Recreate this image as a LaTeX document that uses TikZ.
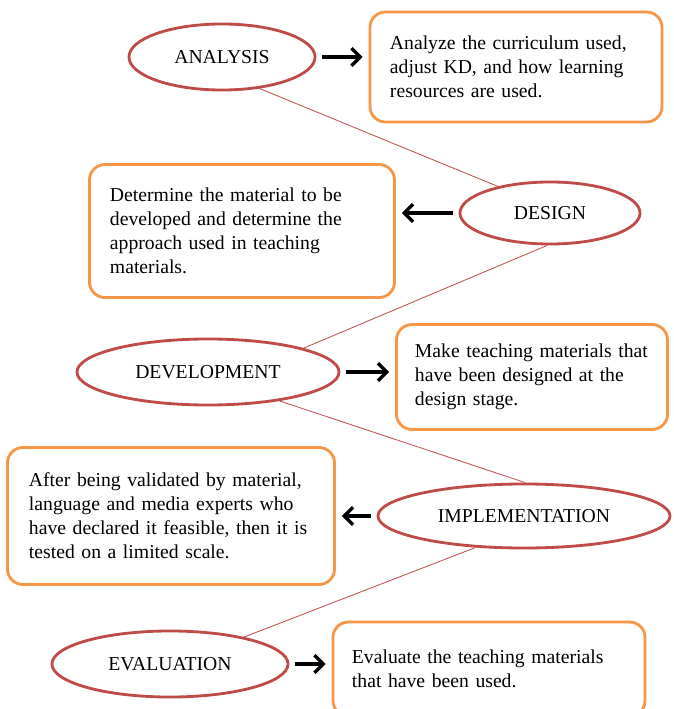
\documentclass[tikz,border=0pt]{standalone}
\usepackage{fontspec}
\setmainfont{Liberation Serif}
\usepackage{xcolor}
\usepackage{tikz}
\usetikzlibrary{arrows.meta,positioning,shapes.geometric}
\definecolor{phasered}{HTML}{BE4B48}
\definecolor{boxorange}{HTML}{F79646}
\definecolor{linkred}{HTML}{C0504D}
\tikzset{
  phase/.style={draw=phasered, ellipse, line width=2pt, fill=white, inner sep=0pt, align=center},
  taskbox/.style={draw=boxorange, rounded corners=11pt, line width=2pt, fill=white, align=left, inner sep=0pt},
  link/.style={draw=linkred, line width=0.6pt},
  arrow/.style={-{Straight Barb[length=2.2mm, width=4.4mm]}, line width=2.4pt, draw=black, shorten <=1.5mm, shorten >=1.5mm}
}

\begin{document}
\begin{tikzpicture}[x=0.025cm, y=-0.025cm, font=\fontsize{14}{17}\selectfont]
  \useasboundingbox (0,0) rectangle (674,709);

  \node[phase, minimum width=4.65cm, minimum height=1.65cm] (analysis) at (222,57) {ANALYSIS};
  \node[phase, minimum width=4.5cm, minimum height=1.55cm] (design) at (550,213) {DESIGN};
  \node[phase, minimum width=6.55cm, minimum height=1.65cm] (development) at (208,372) {DEVELOPMENT};
  \node[phase, minimum width=7.3cm, minimum height=1.6cm] (implementation) at (524,516) {IMPLEMENTATION};
  \node[phase, minimum width=5.9cm, minimum height=1.65cm] (evaluation) at (170,664) {EVALUATION};

  \node[taskbox, minimum width=7.3cm, minimum height=2.75cm, text width=6.3cm] (analysisTask) at (516,67) {
    Analyze the curriculum used,\\
    adjust KD, and how learning\\
    resources are used.};

  \node[taskbox, minimum width=7.625cm, minimum height=3.325cm, text width=6.6cm] (designTask) at (242,231) {
    Determine the material to be\\
    developed and determine the\\
    approach used in teaching\\
    materials.};

  \node[taskbox, minimum width=6.775cm, minimum height=2.625cm, text width=5.85cm] (developmentTask) at (532,377) {
    Make teaching materials that\\
    have been designed at the\\
    design stage.};

  \node[taskbox, minimum width=8.175cm, minimum height=3.425cm, text width=7.1cm] (implementationTask) at (171,516) {
    After being validated by material,\\
    language and media experts who\\
    have declared it feasible, then it is\\
    tested on a limited scale.};

  \node[taskbox, minimum width=7.8cm, minimum height=2.35cm, text width=6.85cm] (evaluationTask) at (489,669) {
    Evaluate the teaching materials\\
    that have been used.};

  % thin links between the phases
  \draw[link] (analysis.-40) -- (design.153);
  \draw[link] (design.-95) -- (development.14);
  \draw[link] (development.-22) -- (implementation.88);
  \draw[link] (implementation.213) -- (evaluation.20);

  % phase to task arrows
  \draw[arrow] (analysis.east) -- (analysis.east -| analysisTask.west);
  \draw[arrow] (design.west) -- (design.west -| designTask.east);
  \draw[arrow] (development.east) -- (development.east -| developmentTask.west);
  \draw[arrow] (implementation.west) -- (implementation.west -| implementationTask.east);
  \draw[arrow] (evaluation.east) -- (evaluation.east -| evaluationTask.west);
\end{tikzpicture}
\end{document}
